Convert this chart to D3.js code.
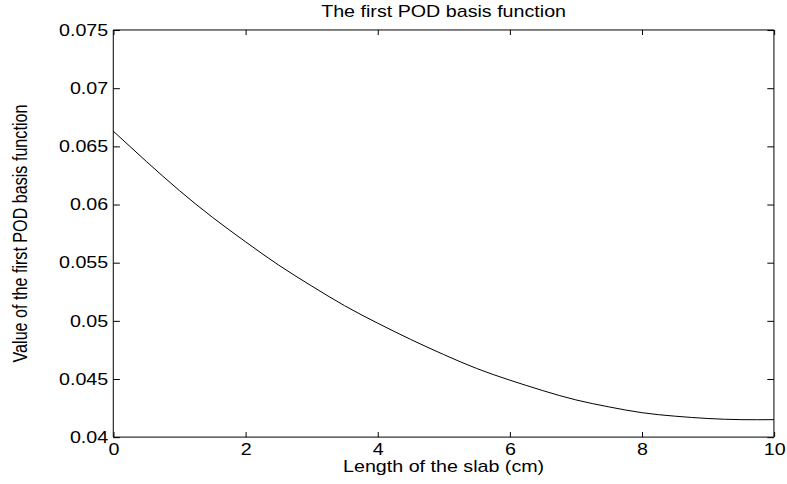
<!DOCTYPE html>
<html>
<head>
<meta charset="utf-8">
<script src="https://cdn.jsdelivr.net/npm/d3@7"></script>
<style>
  body { margin: 0; background: #fff; }
  svg { display: block; }
  text { font-family: "Liberation Sans", Arial, Helvetica, sans-serif; fill: #000; }
</style>
</head>
<body>
<div id="graph"></div>
<script>
// values
const slabX = [0, 0.5, 1, 1.5, 2, 2.5, 3, 3.5, 4, 4.5, 5, 5.5, 6, 6.5, 7, 7.5, 8, 8.5, 9, 9.5, 10];
const podValue = [0.0663, 0.0637, 0.0612, 0.0589, 0.0568, 0.0548, 0.0530, 0.0513, 0.0498, 0.0484,
  0.0471, 0.0459, 0.0449, 0.0440, 0.0432, 0.0426, 0.0421, 0.0418, 0.0416, 0.0415, 0.0415];
const xTicks = [0, 2, 4, 6, 8, 10];
const yTicks = [0.04, 0.045, 0.05, 0.055, 0.06, 0.065, 0.07, 0.075];
const titleText = "The first POD basis function";
const xLabelText = "Length of the slab (cm)";
const yLabelText = "Value of the first POD basis function";

// figure is drawn at 560x420 and stretched to the window, like the original export
let W = 560, H = 420;
let margin = {top: 26, right: 9.3, bottom: 40.7, left: 80.6},
    width = W - margin.left - margin.right,
    height = H - margin.top - margin.bottom;

let svg = d3.select("#graph")
  .append("svg")
  .attr("width", 787)
  .attr("height", 484)
  .attr("viewBox", "0 0 " + W + " " + H)
  .attr("preserveAspectRatio", "none");

let g = svg.append("g")
  .attr("transform", "translate(" + margin.left + "," + margin.top + ")");

let x = d3.scaleLinear().domain([0, 10]).range([0, width]);
let y = d3.scaleLinear().domain([0.04, 0.075]).range([height, 0]);
let fmt = d => String(+d.toFixed(3));

function styleAxis(sel, labels) {
  sel.select(".domain").remove();
  sel.selectAll(".tick line")
    .attr("stroke", "#000")
    .attr("vector-effect", "non-scaling-stroke");
  sel.selectAll(".tick text")
    .style("font-size", "14px")
    .style("font-family", "'Liberation Sans', Arial, sans-serif");
  if (!labels) sel.selectAll(".tick text").remove();
}

// bottom / left with labels, top / right ticks only (inward)
g.append("g")
  .attr("transform", "translate(0," + height + ")")
  .call(d3.axisBottom(x).tickValues(xTicks).tickSizeInner(-4.4).tickSizeOuter(0).tickPadding(5.5).tickFormat(d3.format("d")))
  .call(s => styleAxis(s, true));

g.append("g")
  .call(d3.axisTop(x).tickValues(xTicks).tickSizeInner(-4.4).tickSizeOuter(0))
  .call(s => styleAxis(s, false));

g.append("g")
  .call(d3.axisLeft(y).tickValues(yTicks).tickSizeInner(-4.7).tickSizeOuter(0).tickPadding(3.6).tickFormat(fmt))
  .call(s => styleAxis(s, true));

g.append("g")
  .attr("transform", "translate(" + width + ",0)")
  .call(d3.axisRight(y).tickValues(yTicks).tickSizeInner(-4.7).tickSizeOuter(0))
  .call(s => styleAxis(s, false));

// frame
g.append("rect")
  .attr("width", width)
  .attr("height", height)
  .attr("fill", "none")
  .attr("stroke", "#000")
  .attr("vector-effect", "non-scaling-stroke");

// the curve
let line = d3.line()
  .x((d, i) => x(slabX[i]))
  .y(d => y(d))
  .curve(d3.curveNatural);

g.append("path")
  .datum(podValue)
  .attr("d", line)
  .attr("fill", "none")
  .attr("stroke", "#000")
  .attr("stroke-width", 1)
  .attr("vector-effect", "non-scaling-stroke");

// texts
svg.append("text")
  .attr("x", margin.left + width / 2)
  .attr("y", 14.5)
  .attr("text-anchor", "middle")
  .style("font-size", "14px")
  .text(titleText);

svg.append("text")
  .attr("x", margin.left + width / 2)
  .attr("y", 409.5)
  .attr("text-anchor", "middle")
  .style("font-size", "14px")
  .text(xLabelText);

svg.append("text")
  .attr("transform", "translate(19," + (margin.top + height / 2) + ") rotate(-90)")
  .attr("text-anchor", "middle")
  .style("font-size", "14px")
  .text(yLabelText);
</script>
</body>
</html>
